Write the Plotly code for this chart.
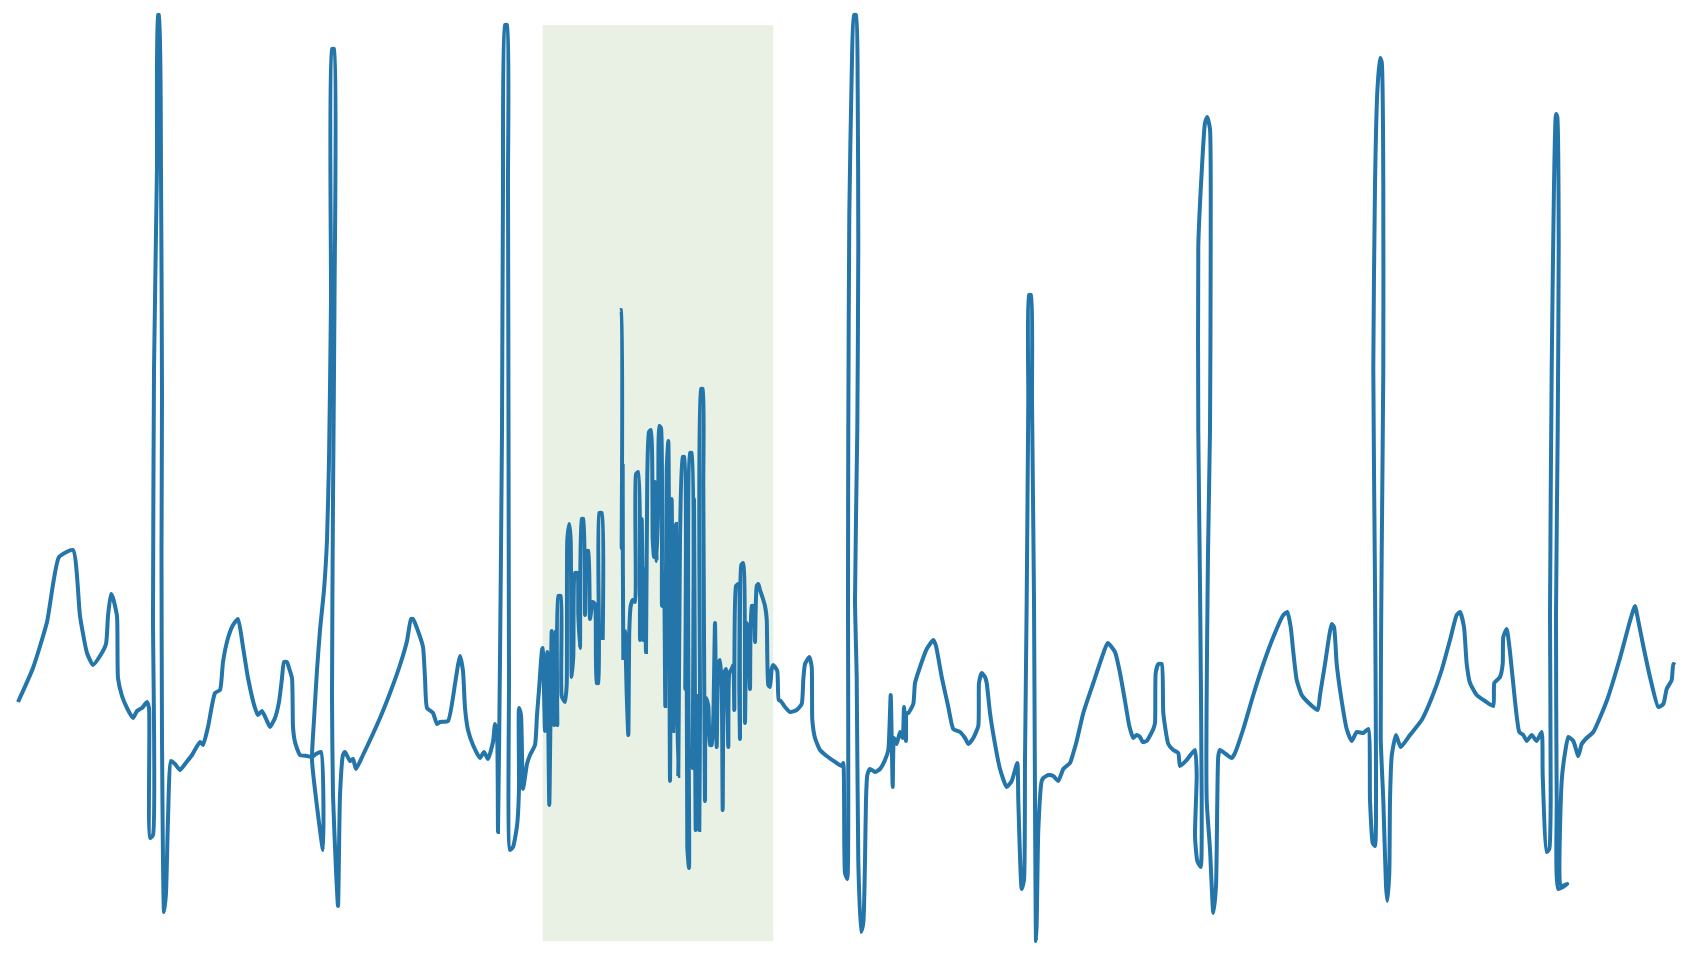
import plotly.graph_objects as go

# time (arbitrary sample units) and amplitude (arbitrary units, baseline = 0)
seg_pre_t = [18, 33, 47, 59, 73, 80, 87, 93, 100, 106, 108, 111, 113, 117, 118, 122, 127, 133, 137, 142, 147,
             149, 150, 153, 153, 154, 157, 158, 159, 161, 162, 161.5, 162, 163, 164, 166, 168, 171, 175, 180, 185,
             192, 200, 203, 208, 215, 220, 223, 228, 233, 238, 243, 248, 255, 258, 262, 267, 270, 275, 279, 282,
             284, 287, 289, 292, 293, 295, 300, 307, 312, 316, 321, 323, 312, 314, 317, 320, 324, 327, 329, 331,
             332, 334, 334.5, 333, 332, 333, 336, 338, 340, 343, 345, 350, 353, 356, 363, 380, 390, 400, 407, 411,
             413, 418, 423, 425, 427, 433, 437, 440, 448, 455, 458, 460, 463, 465, 468, 473, 480, 484, 488, 493,
             495, 497, 498, 500, 502, 503, 505, 507, 508, 508.5, 509, 510, 513, 517, 519, 519, 521, 523, 527, 530,
             535, 537, 539, 542]
seg_pre_v = [54, 88, 134, 199, 206, 140, 103, 91, 100, 112, 140, 162, 158, 140, 78, 60, 48, 38, 45, 48, 54,
             48, -82, -79, 140, 386, 590, 741, 741, 584, 362, 202, 17, -106, -156, -137, -63, -5, -8, -14, -8,
             1, 14, 11, 29, 63, 66, 94, 118, 131, 137, 109, 78, 48, 41, 45, 35, 29, 38, 54, 78,
             94, 94, 88, 78, 29, 14, 1, 0, -1, 2, 4, -94, -4, 36, 86, 126, 166, 216, 296, 456,
             707, 707, 456, 256, 59, -39, -114, -150, -39, 1, 4, -5, -3, -13, 1, 38, 63, 91, 115, 137,
             137, 125, 109, 78, 48, 43, 32, 34, 35, 72, 91, 100, 85, 48, 26, 11, -2, 4, -3, 14,
             32, 23, -76, 97, 325, 571, 731, 731, 571, 325, 78, -94, -91, -70, -33, 48, 41, -33, -8, 1,
             11, 41, 66, 106]

# noisy (artifact) episode
noise_a_t = [542.7, 545, 547.3, 549.3, 551.7, 554, 556, 557.3, 558.3, 560.7, 561.7, 565, 566.7, 567.3, 569.3,
             570.7, 571.7, 573.3, 575, 577.3, 578.3, 580, 581.7, 583.3, 585, 586.7, 588.3, 590, 592.7, 595,
             596.7, 598.3, 599.3, 601.7, 602.7]
noise_a_v = [108, 25, 104, -49, 125, 31, 125, 31, 160, 160, 60, 54, 71, 216, 232,
             216, 79, 100, 183, 183, 141, 108, 237, 237, 141, 205, 205, 137, 154, 152,
             73, 73, 243, 243, 116]
noise_b_t = [620, 621, 621.7, 622.7, 623.3, 625, 626.7, 628.3, 629.3, 630.7, 632.7, 635, 636, 638.3, 640,
             641.7, 643.3, 644.3, 646, 647.3, 649, 651, 652.7, 654, 655, 656.7, 658.3, 659.3, 661, 662,
             664, 665.3, 666.7, 668.3, 670, 671.7, 673.3, 674.3, 676, 676.7, 678.3, 680, 682.7, 684.3, 685.3,
             686.7, 687.3, 689, 690, 691.7, 692.7, 694, 695.7, 697.3, 699.3, 700, 701, 702.7, 703.3, 705,
             706, 708.3, 710, 711.7, 713.3, 715, 716.7, 718.3, 720, 721.7, 722.7, 724.3, 726, 728.3, 729.3,
             731.7, 733.3, 734.3, 736, 738.3, 739.3, 740, 741.3, 743.3, 745, 746.7, 748.3, 750, 751.7, 753.3,
             755, 756.7, 758.3, 760, 762.7, 765, 766.7, 768.3, 770, 771.7, 773.3, 775, 777.3, 778.7]
noise_b_v = [446, 446, 208, 290, 98, 125, 62, 21, 125, 150, 156, 154, 282, 284, 116,
             237, 116, 187, 104, 282, 324, 326, 216, 199, 274, 195, 253, 330, 328, 150,
             183, 50, 286, 315, -25, 257, 25, 91, 232, 83, -20, 216, 299, 299, 67,
             232, -91, -112, 303, 303, -12, 257, -74, 60, -74, 50, 367, 367, 270, -45,
             58, 50, 11, 11, 38, 133, 9, 91, 96, 71, -54, 83, 87, 9, 83,
             87, 91, 46, 170, 172, 67, 17, 191, 193, 33, 133, 125, 67, 150, 150,
             114, 170, 172, 166, 158, 150, 137, 71, 69, 87, 91, 89, 85, 56]

seg_post_t = [780.7, 785, 790, 796.7, 801.7, 803.3, 805, 809.3, 811.7, 812.3, 815, 820, 826.7, 836.7, 841.7, 843.3,
              845, 847.3, 848.3, 848, 848.3, 849.3, 851.7, 854, 856, 857.7, 858.3, 857.3, 855, 856.7, 858.3, 861,
              863.3, 865, 866, 867.3, 870, 875, 880, 885, 888.3, 890.7, 892.7, 894, 896.7, 900, 902.7, 904, 906,
              906.7, 908.3, 913.3, 915, 920, 926.7, 933.3, 936, 941.7, 948.3, 953.3, 960, 965, 968.3, 973.3,
              978.3, 979, 981.7, 985, 986.7, 990, 995, 1000, 1006.7, 1011.7, 1017.3,
              1018.3, 1021.7, 1024, 1025, 1026.7, 1028.3, 1029, 1031, 1032, 1034, 1035, 1036, 1036.7, 1038.3,
              1041.7, 1043.3, 1048.3, 1053.3, 1058.3, 1063.3, 1070, 1073.3, 1076.7, 1083.3, 1093.3, 1101.7,
              1107.7, 1115, 1120, 1125, 1129.3, 1133.3, 1136.7, 1140, 1142.7, 1146.7, 1153.3, 1155, 1155.7,
              1158.3, 1161.7, 1163.3, 1168.3, 1173.3, 1178.3, 1180, 1186.7, 1195,
              1196.7, 1195, 1197.3, 1200.7, 1201.7, 1200, 1198.3, 1198.3, 1201.7, 1205, 1207.3, 1210, 1210.7,
              1210, 1208, 1206.7, 1210, 1213.3, 1216, 1217.3, 1218.3, 1220, 1231.7, 1235, 1243.3, 1253.3,
              1263.3, 1273.3, 1283.3, 1287.3, 1290.7, 1293.3, 1296.7, 1301.7, 1306.7, 1317.7, 1320, 1325,
              1331.7, 1334, 1336.7, 1341.7, 1346.7, 1351.7, 1356.7, 1363.3, 1368.3,
              1370, 1372.7, 1375, 1376, 1375, 1373.3, 1375, 1377.3, 1380, 1381.7, 1383.3, 1383.3, 1381.7,
              1380.7, 1383.3, 1386, 1387.3, 1389.3, 1390, 1391.7, 1396, 1400.7, 1410, 1421.7, 1431.7, 1441.7,
              1450, 1456.7, 1460, 1464, 1466.7, 1470, 1476.7, 1485, 1493.3, 1494.3, 1500, 1502.7, 1503.3,
              1506.7, 1510, 1515, 1519.3, 1523.3, 1526.7, 1531.7, 1536.7, 1541.7,
              1542.7, 1546.7, 1549.3, 1550.7, 1550, 1551.7, 1554, 1556, 1557.3, 1558.7, 1557.7, 1556, 1556.7,
              1558.3, 1567.3, 1561, 1561.7, 1565, 1568.3, 1573.3, 1578.3, 1581.7, 1586.7, 1593.3, 1606.7,
              1620, 1630, 1635, 1638.3, 1643.3, 1650, 1658.3, 1663.3, 1666.7, 1671.7, 1673.3, 1675]
seg_post_v = [55, 49, 44, 46, 52, 76, 92, 99, 89, 36, 18, 6, 0, -7, -10, -7,
              -117, -123, -44, 156, 326, 541, 682, 741, 741, 664, 510, 326, 156, 79, -105, -176,
              -167, -105, -44, -19, -13, -16, -13, -4, 6, 61, -31, 18, 12, 24, 18, 49, 15,
              43, 43, 52, 73, 89, 107, 116, 110, 79, 49, 27, 24, 18, 12, 18,
              30, 73, 83, 79, 73, 43, 12, -13, -31, -25, -7,
              -44, -133, -124, -4, 156, 356, 461, 461, 356, 156, -44, -185, -167, -74,
              -25, -22, -19, -20, -25, -13, -7, 3, 15, 43, 73, 98,
              113, 104, 83, 55, 30, 18, 21, 19, 14, 15, 27, 33, 83,
              92, 92, 43, 12, 6, 3, -10, -4, 6,
              -19, -80, -105, -111, -44, 172, 325, 510, 584, 633, 639, 627, 510,
              325, 202, -44, -93, -157, -130, -44, 0, 6, -2, 3, 27, 61,
              92, 119, 141, 144, 129, 104, 76, 61, 55, 46, 61, 92,
              132, 129, 92, 55, 27, 15, 24, 23, 27,
              -44, -87, -90, -13, 172, 387, 571, 664, 698, 694, 571, 387, 202,
              18, -44, -130, -145, -117, -44, 0, 21, 9, 21, 36, 58, 86,
              116, 141, 144, 129, 92, 73, 61, 55, 50, 73, 79, 92, 119,
              127, 104, 55, 24, 21, 15, 21, 15, 24,
              -19, -96, -93, -44, 141, 387, 571, 642, 639, 510, 325, 141, -44,
              -133, -128, -130, -25, 3, 19, 15, 0, 12, 18, 24, 55,
              98, 135, 150, 135, 110, 79, 49, 52, 67, 76, 92, 91]

# artifact window (shaded)
artifact_start, artifact_end = 542.7, 773.3
artifact_low, artifact_high = -185, 731

t = seg_pre_t + noise_a_t + [None] + noise_b_t + seg_post_t
v = seg_pre_v + noise_a_v + [None] + noise_b_v + seg_post_v

fig = go.Figure()
fig.add_shape(type="rect", xref="x", yref="y",
              x0=artifact_start, x1=artifact_end, y0=artifact_low, y1=artifact_high,
              fillcolor="rgb(232,241,228)", line=dict(width=0), layer="below")
fig.add_trace(go.Scatter(x=t, y=v, mode="lines", connectgaps=False,
                         line=dict(color="#2475a9", width=4, shape="spline", smoothing=0.5),
                         hoverinfo="skip"))

fig.update_layout(
    width=1689, height=963,
    margin=dict(l=0, r=0, t=0, b=0),
    paper_bgcolor="white", plot_bgcolor="white",
    showlegend=False,
    xaxis=dict(visible=False, range=[0, 1689], fixedrange=True),
    yaxis=dict(visible=False, range=[-207, 756], fixedrange=True),
)

fig.write_html(
    "out.html",
    config={"displayModeBar": False},
    post_script="document.body.style.margin='0';document.body.style.overflow='hidden';",
)
